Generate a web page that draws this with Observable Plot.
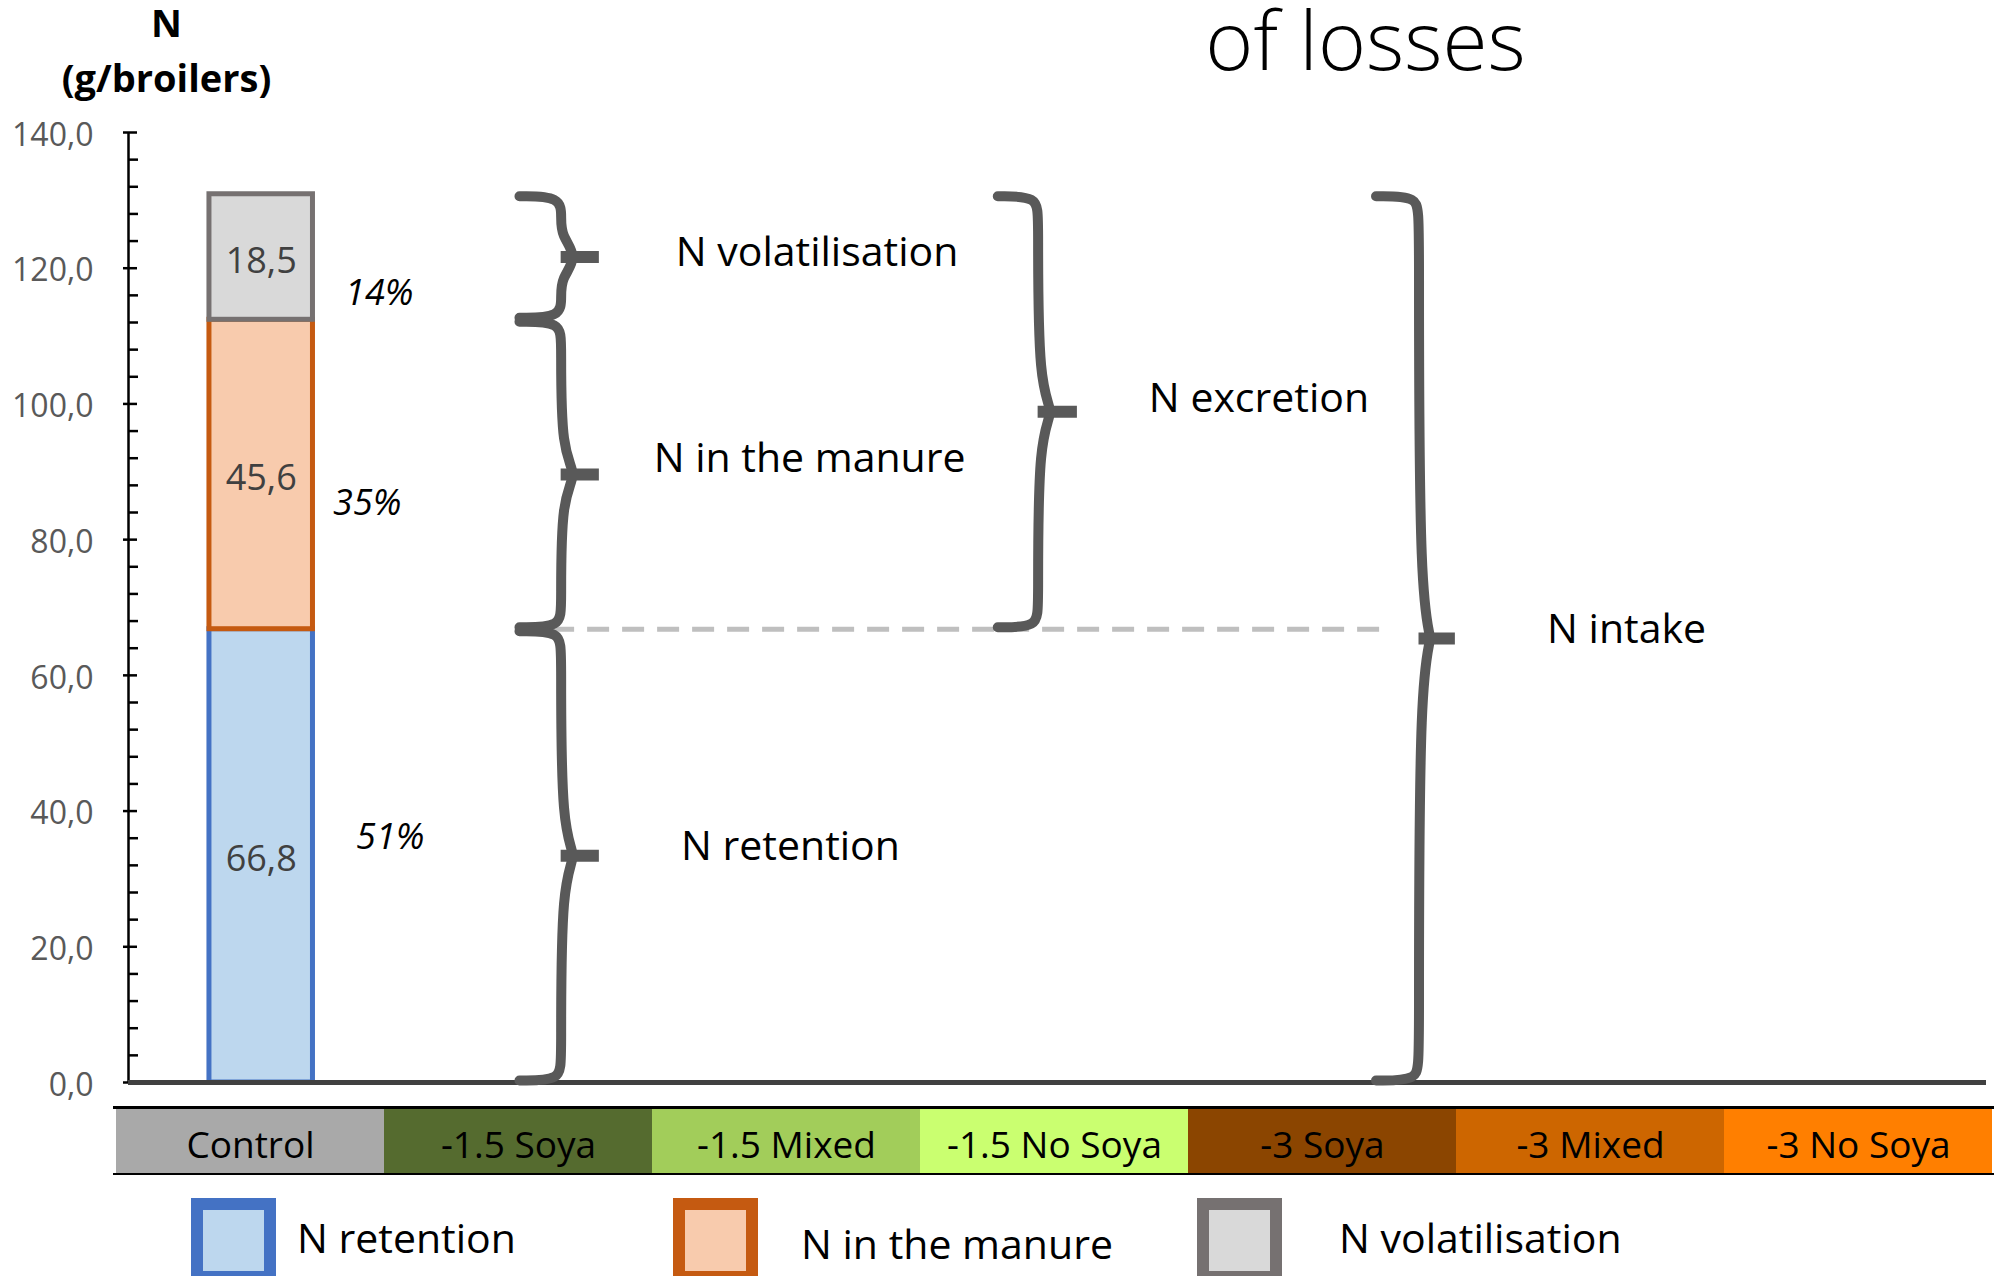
<!DOCTYPE html>
<html>
<head>
<meta charset="utf-8">
<script src="https://cdn.jsdelivr.net/npm/d3@7"></script>
<script src="https://cdn.jsdelivr.net/npm/@observablehq/plot@0.6"></script>
<style>
html, body { margin: 0; padding: 0; background: #fff; overflow: hidden; width: 1994px; height: 1276px; }
svg { display: block; }
#legend { position: relative; height: 101px; font-family: "Open Sans", sans-serif; }
.sw { position: absolute; top: 23px; width: 85px; height: 85px; box-sizing: border-box; border: 12px solid; }
.lt { position: absolute; font-size: 41px; line-height: 41px; white-space: nowrap; color: #000; }
</style>
</head>
<body>
<div id="chart"></div>
<div id="strip"></div>
<div id="legend"></div>
<script>
// ---------------- data ----------------
const treatments = ["Control", "-1.5 Soya", "-1.5 Mixed", "-1.5 No Soya", "-3 Soya", "-3 Mixed", "-3 No Soya"];
const barTreatment = "Control";
const components = ["N retention", "N in the manure", "N volatilisation"];
const values = [66.8, 45.6, 18.5];
const yTicks = [0, 20, 40, 60, 80, 100, 120, 140];
const braceLabels = ["N volatilisation", "N in the manure", "N retention", "N excretion", "N intake"];
const braceFrom = [2, 1, 0, 1, 0];   // first component covered
const braceTo = [2, 1, 0, 2, 2];     // last component covered
const titleText = "of losses";
const yLabel = ["N", "(g/broilers)"];

// ---------------- styles / layout ----------------
const compFill = {"N retention": "#bdd7ee", "N in the manure": "#f8cbad", "N volatilisation": "#d9d9d9"};
const compStroke = {"N retention": "#4472c4", "N in the manure": "#c55a11", "N volatilisation": "#767171"};
const stripFill = {"Control": "#a9a9a9", "-1.5 Soya": "#556b2f", "-1.5 Mixed": "#a2cd5a", "-1.5 No Soya": "#caff70",
  "-3 Soya": "#8b4500", "-3 Mixed": "#cd6600", "-3 No Soya": "#ff7f00"};
const pctOffset = [{dx: 129, dy: -18}, {dx: 106, dy: 29}, {dx: 118, dy: 36}];
const smallG = {xe: 1.473, xs: 1.630, xt: 1.774};
const braceGeom = {
  "N volatilisation": smallG, "N in the manure": smallG, "N retention": smallG,
  "N excretion": {xe: 3.275, xs: 3.427, xt: 3.575},
  "N intake": {xe: 4.700, xs: 4.862, xt: 4.999}
};
const braceLabelPos = {
  "N volatilisation": {x: 2.594, dy: -4}, "N in the manure": {x: 2.566, dy: -16}, "N retention": {x: 2.494, dy: -9},
  "N excretion": {x: 4.259, dy: -13}, "N intake": {x: 5.644, dy: -9}
};
const dashX = [1.466, 4.721];
const legendPos = [{sq: 191, tx: 297, ty: 42}, {sq: 673, tx: 801, ty: 48}, {sq: 1197, tx: 1339, ty: 42}];
const FONT = "Open Sans";

// ---------------- derived ----------------
const fmt1 = v => v.toFixed(1).replace(".", ",");
const total = d3.sum(values);
const cum = Array.from(d3.cumsum(values));
const rows = components.map((c, i) => ({
  component: c, value: values[i], y1: cum[i] - values[i], y2: cum[i],
  mid: cum[i] - values[i] / 2, pct: Math.round(values[i] / total * 100) + "%"
}));
const bi = treatments.indexOf(barTreatment);
const barC = bi + 0.5, barHalf = 0.195;

const braces = braceLabels.map((label, i) => {
  const lo = braceFrom[i] === 0 ? 0 : cum[braceFrom[i] - 1];
  const hi = cum[braceTo[i]];
  return {label, lo, hi, mid: (lo + hi) / 2, ...braceGeom[label]};
});
const bracePts = braces.flatMap(b => {
  const top = b.hi - 0.3, bot = b.lo + 0.3, mid = b.mid, r = 3.2, k = 0.45 * (b.xt - b.xs);
  return [[b.xe, top], [b.xs, top], [b.xs, top - r], [b.xs, mid + r], [b.xs + k, mid],
          [b.xs, mid - r], [b.xs, bot + r], [b.xs, bot], [b.xe, bot]]
    .map(([x, y]) => ({label: b.label, x, y}));
});

const braceColor = "#595959";

const main = Plot.plot({
  width: 1994, height: 1095,
  marginLeft: 128, marginRight: 8, marginTop: 132, marginBottom: 13,
  x: {type: "linear", domain: [0, treatments.length], axis: null},
  y: {domain: [0, 140]},
  color: {type: "identity"},
  style: {fontFamily: FONT, background: "white", overflow: "visible"},
  marks: [
    Plot.ruleY([rows[0].y2], {x1: () => dashX[0], x2: () => dashX[1], stroke: "#bfbfbf", strokeWidth: 5, strokeDasharray: "22,13"}),
    Plot.ruleX([0], {stroke: "black", strokeWidth: 2.5}),
    Plot.axisY({ticks: d3.range(0, 141, 4).filter(d => d % 20 !== 0), tickSize: 10, dx: 10, tickFormat: () => "", label: null, stroke: "black", strokeWidth: 2.5}),
    Plot.axisY({ticks: yTicks, tickSize: 14, dx: 9, tickFormat: () => "", label: null, stroke: "black", strokeWidth: 2.5}),
    Plot.axisY({ticks: yTicks, tickSize: 0, tickPadding: 35, tickFormat: fmt1, label: null, fontSize: 32, color: "#595959", dy: 3}),
    Plot.rectY(rows, {x1: () => barC - barHalf, x2: () => barC + barHalf, y1: "y1", y2: "y2",
      fill: d => compFill[d.component], stroke: d => compStroke[d.component], strokeWidth: 5}),
    Plot.ruleY([0], {stroke: "#404040", strokeWidth: 5}),
    Plot.text(rows, {x: () => barC, y: "mid", text: d => fmt1(d.value), fill: "#404040", fontSize: 36, dy: 4}),
    ...rows.map((d, i) => Plot.text([d], {x: () => barC, y: "mid", text: "pct", fontStyle: "italic", fontSize: 36,
      fill: "black", dx: pctOffset[i].dx, dy: pctOffset[i].dy})),
    Plot.line(bracePts, {x: "x", y: "y", z: "label", curve: "basis", stroke: braceColor, strokeWidth: 10, fill: "none"}),
    Plot.ruleY(braces, {y: "mid", x1: "xs", x2: "xt", stroke: braceColor, strokeWidth: 12}),
    ...braces.map(b => Plot.text([b], {x: d => braceLabelPos[d.label].x, y: "mid", text: "label", fontSize: 41,
      fill: "black", dy: braceLabelPos[b.label].dy})),
    Plot.text([yLabel[0]], {frameAnchor: "top-left", lineAnchor: "middle", text: d => d, textAnchor: "middle", dx: 38, dy: -108, fontSize: 38, fontWeight: "bold", fill: "black"}),
    Plot.text([yLabel[1]], {frameAnchor: "top-left", lineAnchor: "middle", text: d => d, textAnchor: "middle", dx: 38, dy: -53, fontSize: 38, fontWeight: "bold", fill: "black"}),
    Plot.text([titleText], {frameAnchor: "top-left", lineAnchor: "middle", text: d => d, textAnchor: "middle", dx: 1237, dy: -89, fontSize: 82, fontWeight: 300, fill: "black"})
  ]
});
document.getElementById("chart").appendChild(main);

const strip = Plot.plot({
  width: 1994, height: 80,
  marginLeft: 113, marginRight: 0, marginTop: 12, marginBottom: 1,
  x: {type: "band", domain: treatments, padding: 0, axis: null},
  y: {domain: [0, 1], axis: null},
  color: {type: "identity"},
  style: {fontFamily: FONT, background: "white"},
  marks: [
    Plot.cell(treatments, {x: d => d, fill: d => stripFill[d]}),
    Plot.text(treatments, {x: d => d, text: d => d, fontSize: 37, fill: "black", dy: 5}),
    Plot.ruleY([0, 1], {stroke: "black", strokeWidth: 3})
  ]
});
document.getElementById("strip").appendChild(strip);

const legend = document.getElementById("legend");
components.forEach((c, i) => {
  const sq = document.createElement("div");
  sq.className = "sw";
  sq.style.left = legendPos[i].sq + "px";
  sq.style.borderColor = compStroke[c];
  sq.style.background = compFill[c];
  legend.appendChild(sq);
  const t = document.createElement("div");
  t.className = "lt";
  t.style.left = legendPos[i].tx + "px";
  t.style.top = legendPos[i].ty + "px";
  t.textContent = c;
  legend.appendChild(t);
});
</script>
</body>
</html>
